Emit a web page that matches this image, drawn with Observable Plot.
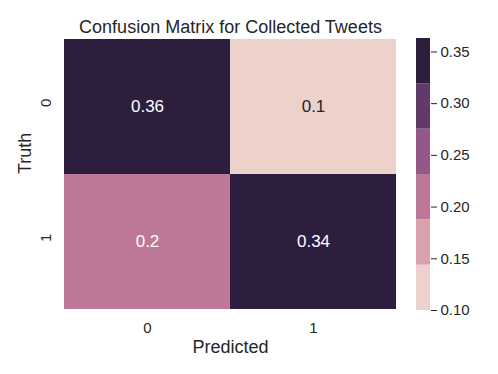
<!DOCTYPE html>
<html>
<head>
<meta charset="utf-8">
<script src="https://cdn.jsdelivr.net/npm/d3@7"></script>
<script src="https://cdn.jsdelivr.net/npm/@observablehq/plot@0.6"></script>
<style>
  body { margin: 0; background: #fff; }
  #wrap { position: relative; width: 498px; height: 374px; }
  #wrap svg { position: absolute; top: 0; font-family: "Liberation Sans", Arial, sans-serif; }
</style>
</head>
<body>
<div id="wrap"></div>
<script>
// ---- data ----
const truthLabels = ["0", "1"];
const predLabels = ["0", "1"];
const values = [
  [0.363, 0.100],
  [0.199, 0.338]
];
const paletteColors = ["#edd1cb", "#d9a1aa", "#bd7797", "#935888", "#623a6a", "#2e1e3e"];
const colorbarTicks = [0.10, 0.15, 0.20, 0.25, 0.30, 0.35];
const title = "Confusion Matrix for Collected Tweets";
const xLabel = "Predicted";
const yLabel = "Truth";

// ---- derived tables ----
const cells = [];
truthLabels.forEach((t, i) => predLabels.forEach((p, j) => cells.push({truth: t, pred: p, v: values[i][j]})));
const flat = values.flat();
const vmin = d3.min(flat), vmax = d3.max(flat);
const n = paletteColors.length;
const edges = d3.range(n + 1).map(k => vmin + k * (vmax - vmin) / n);
const thresholds = edges.slice(1, n);
const bands = d3.range(n).map(k => ({y1: edges[k], y2: edges[k + 1], mid: (edges[k] + edges[k + 1]) / 2}));
const colorSpec = {type: "threshold", domain: thresholds, range: paletteColors};
const fmt = d3.format(".2~g");
const ink = "#262626";

const main = Plot.plot({
  width: 498, height: 374,
  marginLeft: 64, marginRight: 102, marginTop: 38, marginBottom: 65,
  style: {background: "transparent", color: ink},
  x: {domain: predLabels, padding: 0, axis: null},
  y: {domain: truthLabels, padding: 0, axis: null},
  color: colorSpec,
  marks: [
    Plot.cell(cells, {x: "pred", y: "truth", fill: "v"}),
    Plot.text(cells, {x: "pred", y: "truth", text: d => fmt(d.v), fontSize: 17,
      fill: d => d.v < thresholds[1] ? ink : "white"}),
    Plot.axisX({tickSize: 0, tickPadding: 13, fontSize: 15, label: null, fill: ink}),
    Plot.text(truthLabels, {y: d => d, frameAnchor: "left", dx: -18, rotate: -90, fontSize: 15, fill: ink}),
    Plot.text([title], {frameAnchor: "top", dy: -6, lineAnchor: "bottom", fontSize: 18, fill: ink}),
    Plot.text([xLabel], {frameAnchor: "bottom", dy: 43, lineAnchor: "bottom", fontSize: 18, fill: ink}),
    Plot.text([yLabel], {frameAnchor: "left", dx: -39, rotate: -90, fontSize: 18, fill: ink})
  ]
});

const bar = Plot.plot({
  width: 98, height: 374,
  marginLeft: 16, marginRight: 68, marginTop: 38, marginBottom: 64,
  style: {background: "transparent", color: ink},
  x: {axis: null},
  y: {domain: [vmin, vmax], axis: null},
  color: colorSpec,
  marks: [
    Plot.rect(bands, {y1: "y1", y2: "y2", fill: "mid"}),
    Plot.axisY(colorbarTicks, {anchor: "right", tickSize: 6, tickPadding: 4, fontSize: 15,
      tickFormat: d3.format(".2f"), label: null, stroke: ink, fill: ink})
  ]
});
bar.style.left = "400px";

const wrap = document.getElementById("wrap");
main.style.left = "0px";
wrap.appendChild(main);
wrap.appendChild(bar);
</script>
</body>
</html>
